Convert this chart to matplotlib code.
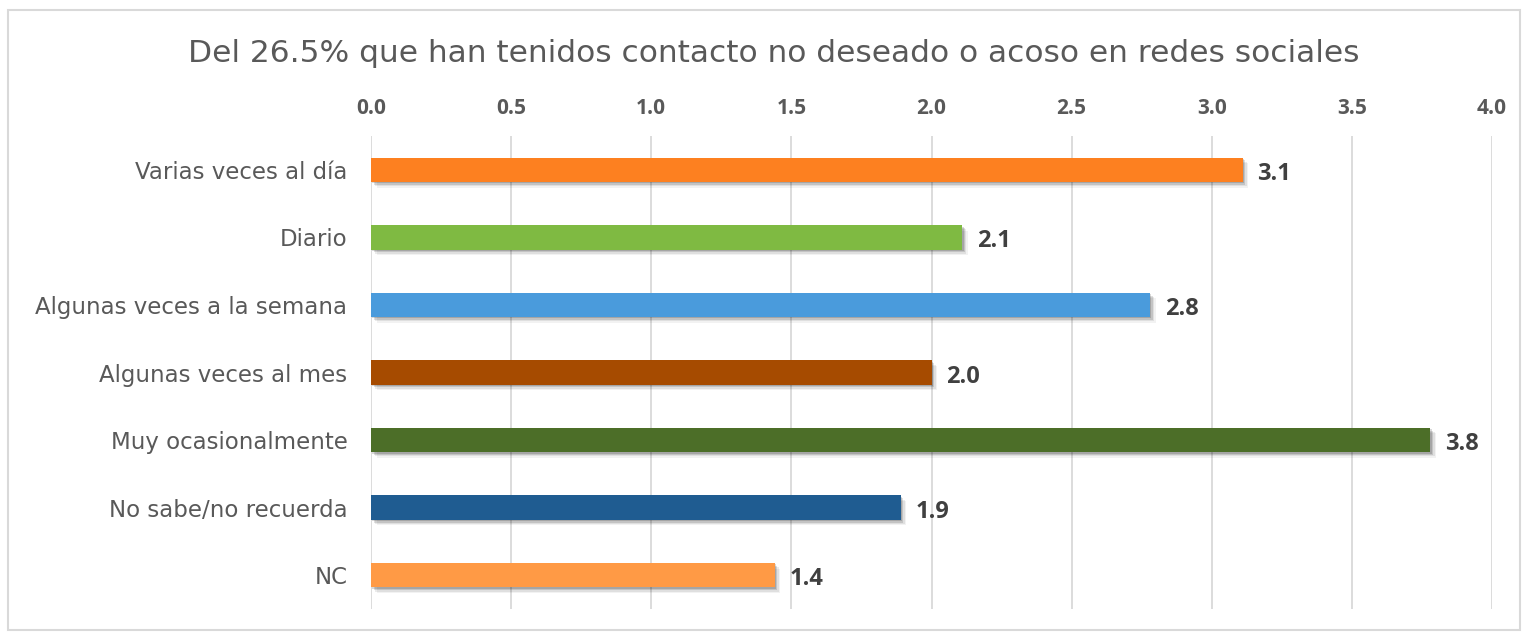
import matplotlib
matplotlib.use("Agg")
import matplotlib.pyplot as plt
import matplotlib.patheffects as pe
from matplotlib.patches import Rectangle

categories = ["Varias veces al día", "Diario", "Algunas veces a la semana",
              "Algunas veces al mes", "Muy ocasionalmente", "No sabe/no recuerda", "NC"]
values = [3.11, 2.11, 2.78, 2.00, 3.78, 1.89, 1.44]
colors = ["#FD8020", "#7FBA42", "#4A9BDC", "#A64B00", "#4C6E28", "#1F5C91", "#FF9A45"]
xticks = [0.0, 0.5, 1.0, 1.5, 2.0, 2.5, 3.0, 3.5, 4.0]
title = "Del 26.5% que han tenidos contacto no deseado o acoso en redes sociales"

plt.rcParams['font.family'] = ['DejaVu Sans']

fig = plt.figure(figsize=(15.22, 6.33), dpi=100)
fig.patches.append(Rectangle((8/1522, 3/633), 1512/1522, 620/633, transform=fig.transFigure,
                             fill=False, edgecolor="#D9D9D9", linewidth=1.5))
ax = fig.add_axes([371/1522, 1-609/633, 1121/1522, 473/633])

y = list(range(len(categories)))
bars = ax.barh(y, values, height=0.36, color=colors, zorder=3)
shadow = [pe.SimplePatchShadow(offset=(o, -o), alpha=a, shadow_rgbFace="black")
          for o, a in [(4, 0.05), (3, 0.08), (2, 0.12), (1, 0.15)]]
for b in bars:
    b.set_path_effects(shadow + [pe.Normal()])

for yi, v in zip(y, values):
    ax.text(v + 0.052, yi + 0.06, f"{v:.1f}", va="center", ha="left", fontsize=17,
            fontweight="bold", color="#404040", family=["Open Sans", "DejaVu Sans"])

ax.set_xlim(0, 4.0)
ax.set_ylim(len(categories) - 0.5, -0.5)
ax.set_yticks(y)
ax.set_yticklabels(categories, fontsize=16.5, color="#595959")
ax.set_xticks(xticks)
ax.set_xticklabels([f"{t:.1f}" for t in xticks], fontsize=15, fontweight="bold",
                   color="#595959", family=["Open Sans", "DejaVu Sans"])
ax.xaxis.tick_top()
ax.tick_params(axis="both", length=0)
ax.tick_params(axis="y", pad=17)
ax.tick_params(axis="x", pad=12)
ax.grid(axis="x", color="#D9D9D9", linewidth=1.3, zorder=0)
for s in ax.spines.values():
    s.set_visible(False)

fig.text(774/1522, 1-53/633, title, ha="center", va="center", fontsize=22.5, color="#595959")

fig.savefig("out.png", dpi=100)
